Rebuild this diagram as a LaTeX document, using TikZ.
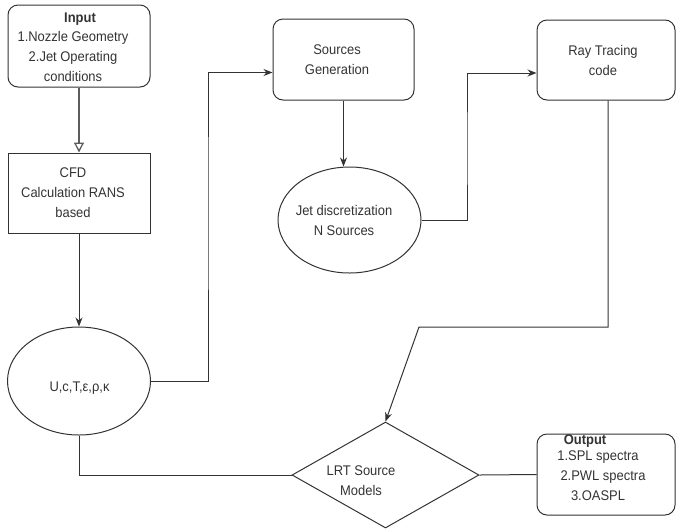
\documentclass[tikz,border=0pt]{standalone}
\usepackage{fontspec}
\setmainfont{Liberation Sans}[FakeStretch=0.925]
\usetikzlibrary{shapes.geometric,arrows.meta,calc}
\definecolor{ink}{HTML}{333333}
\tikzset{
  every node/.style={text=ink},
  rbox/.style={draw=ink, line width=1pt, rounded corners=10pt, inner sep=0pt},
  sbox/.style={draw=ink, line width=1pt, inner sep=0pt},
  ell/.style={draw=ink, line width=1pt, ellipse, inner sep=0pt},
  dia/.style={draw=ink, line width=1pt, diamond, inner sep=0pt},
  txt/.style={align=center, font=\fontsize{14}{20}\selectfont, inner sep=0pt},
  conn/.style={draw=ink, line width=1pt},
  arr/.style={conn, -{Stealth[length=9pt,width=7pt]}},
  oarr/.style={draw=ink!80, line width=1.3pt, -{Triangle[open,length=10pt,width=10pt]}}
}
\begin{document}
\begin{tikzpicture}[x=1pt,y=-1pt]
\useasboundingbox (0,0) rectangle (676,531);
% boxes
\node[rbox, minimum width=142pt, minimum height=82pt] (input) at (79,46) {};
\node[sbox, minimum width=142pt, minimum height=80pt] (cfd) at (79,193) {};
\node[ell, minimum width=143pt, minimum height=108pt] (u) at (79,381) {};
\node[rbox, minimum width=141pt, minimum height=81pt] (src) at (343.5,59.5) {};
\node[ell, minimum width=143pt, minimum height=106pt] (jet) at (349.5,220) {};
\node[rbox, minimum width=138pt, minimum height=80pt] (ray) at (606,60) {};
\node[dia, minimum width=187pt, minimum height=106pt] (lrt) at (385.5,475) {};
\node[rbox, minimum width=138pt, minimum height=81pt] (out) at (606,474.5) {};
% texts
\node[txt] (inputhead) at (80,19) {\textbf{Input}};
\node[txt, anchor=north] (inputtxt) at (73,31) {1.Nozzle Geometry\\2.Jet Operating\\conditions};
\node[txt] (cfdtxt) at (73,193) {CFD\\Calculation RANS\\based};
\node[txt] (utxt) at (79.5,388) {U,c,T,ε,ρ,κ};
\node[txt] (srctxt) at (337,60) {Sources\\Generation};
\node[txt] (jettxt) at (344,220) {Jet discretization\\N Sources};
\node[txt] (raytxt) at (603,60) {Ray Tracing\\code};
\node[txt] (lrttxt) at (361,481) {LRT Source\\Models};
\node[txt] (outhead) at (585,441) {\textbf{Output}};
\node[txt, anchor=north] (outtxt) at (598,451) {1.SPL spectra\\\hspace*{10pt}2.PWL spectra\\3.OASPL};
% connectors
\coordinate (k1) at (208,200);
\coordinate (k2) at (467,150);
\coordinate (k3) at (608,327);
\coordinate (k4) at (419,327);
\draw[oarr] (input.south) -- (cfd.north);
\draw[arr] (cfd.south) -- (u.north);
\draw[arr] (u.east) -| (k1) |- ([yshift=-13pt]src.west);
\draw[arr] (src.south) -- (src.south |- jet.north);
\draw[arr] (jet.east) -| (k2) |- ([yshift=-13pt]ray.west);
\draw[arr] (ray.south -| k3) -- (k3) -- (k4) -- (lrt.north);
\draw[conn] (u.south) |- (lrt.west);
\draw[conn] (lrt.east) -- (out.west);
\end{tikzpicture}
\end{document}
